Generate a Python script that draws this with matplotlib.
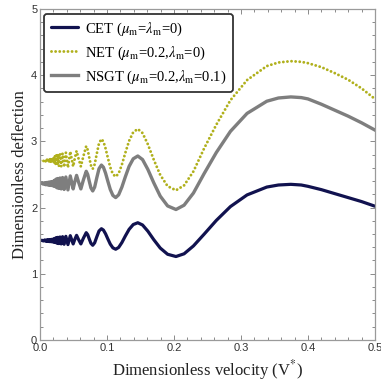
import matplotlib
matplotlib.use("Agg")
import matplotlib.pyplot as plt
from matplotlib.ticker import MultipleLocator

# ---------------- data ----------------
velocity = [0.0, 0.003, 0.005, 0.007, 0.0085, 0.010, 0.0113, 0.0126, 0.0139, 0.0152,
            0.0165, 0.0178, 0.019, 0.0202, 0.0213, 0.0223, 0.0233, 0.0243, 0.0255, 0.0268,
            0.0282, 0.0299, 0.0316, 0.0337, 0.0360, 0.0386, 0.0417, 0.0452, 0.0495, 0.0520,
            0.0546, 0.0576, 0.0610, 0.0647, 0.0690, 0.0712, 0.0735, 0.0760, 0.0787, 0.0816,
            0.0847, 0.0881, 0.0917, 0.0947, 0.0979, 0.1013, 0.1049, 0.1088, 0.113, 0.1174,
            0.1222, 0.1274, 0.1330, 0.1392, 0.146, 0.1531, 0.1610, 0.1698, 0.1795, 0.1905,
            0.203, 0.2151, 0.2291, 0.2449, 0.2632, 0.2843, 0.3091, 0.3386, 0.356, 0.3745,
            0.390, 0.400, 0.420, 0.440, 0.460, 0.480, 0.500]

cet = [1.50, 1.505, 1.495, 1.51, 1.49, 1.512, 1.488, 1.515, 1.485, 1.517,
       1.483, 1.52, 1.48, 1.525, 1.475, 1.535, 1.47, 1.545, 1.46, 1.55,
       1.455, 1.555, 1.45, 1.56, 1.445, 1.565, 1.44, 1.575, 1.45, 1.52,
       1.58, 1.515, 1.45, 1.535, 1.62, 1.59, 1.525, 1.46, 1.43, 1.467,
       1.555, 1.645, 1.68, 1.659, 1.6025, 1.525, 1.4475, 1.391, 1.37, 1.397,
       1.47, 1.57, 1.67, 1.743, 1.77, 1.736, 1.643, 1.515, 1.388, 1.294,
       1.26, 1.301, 1.420, 1.596, 1.805, 2.014, 2.190, 2.309, 2.34, 2.35,
       2.34, 2.32, 2.27, 2.21, 2.15, 2.09, 2.02]

net = [2.71, 2.719, 2.701, 2.728, 2.692, 2.732, 2.688, 2.737, 2.683, 2.741,
       2.679, 2.746, 2.674, 2.755, 2.665, 2.773, 2.656, 2.791, 2.638, 2.800,
       2.629, 2.809, 2.620, 2.818, 2.611, 2.827, 2.602, 2.845, 2.620, 2.746,
       2.854, 2.737, 2.620, 2.773, 2.926, 2.872, 2.755, 2.638, 2.584, 2.651,
       2.809, 2.971, 3.034, 2.996, 2.892, 2.750, 2.608, 2.504, 2.466, 2.514,
       2.646, 2.826, 3.006, 3.138, 3.186, 3.124, 2.955, 2.723, 2.492, 2.322,
       2.26, 2.334, 2.546, 2.89, 3.25, 3.62, 3.924, 4.136, 4.19, 4.21,
       4.20, 4.18, 4.12, 4.03, 3.93, 3.80, 3.64]

nsgt = [2.36, 2.367, 2.352, 2.375, 2.344, 2.378, 2.341, 2.383, 2.336, 2.386,
        2.333, 2.391, 2.328, 2.399, 2.320, 2.414, 2.313, 2.430, 2.297, 2.438,
        2.289, 2.446, 2.281, 2.453, 2.273, 2.461, 2.266, 2.477, 2.281, 2.391,
        2.485, 2.383, 2.281, 2.414, 2.547, 2.500, 2.399, 2.297, 2.250, 2.308,
        2.446, 2.586, 2.641, 2.608, 2.518, 2.396, 2.273, 2.183, 2.150, 2.192,
        2.307, 2.464, 2.621, 2.736, 2.778, 2.724, 2.576, 2.374, 2.172, 2.024,
        1.97, 2.035, 2.219, 2.51, 2.83, 3.15, 3.421, 3.605, 3.654, 3.67,
        3.66, 3.64, 3.56, 3.47, 3.38, 3.28, 3.17]

labels = [r'CET ($\mu_\mathrm{m}$=$\lambda_\mathrm{m}$=0)',
          r'NET ($\mu_\mathrm{m}$=0.2,$\lambda_\mathrm{m}$=0)',
          r'NSGT ($\mu_\mathrm{m}$=0.2,$\lambda_\mathrm{m}$=0.1)']

# ---------------- figure ----------------
plt.rcParams['mathtext.fontset'] = 'stix'
serif = ['Liberation Serif', 'DejaVu Serif']
sans = ['Liberation Sans', 'DejaVu Sans']

fig = plt.figure(figsize=(3.81, 3.85), dpi=100)
ax = fig.add_axes([0.105, 0.117, 0.879, 0.860])

ax.plot(velocity, cet, color='#11124f', lw=2.3, label=labels[0],
        solid_joinstyle='round', solid_capstyle='round')
ax.plot(velocity, net, color='#b0b01c', lw=2.1, linestyle=(0, (0.01, 1.4)),
        dash_capstyle='round', label=labels[1])
ax.plot(velocity, nsgt, color='#7e7e7e', lw=2.4, solid_joinstyle='round',
        label=labels[2])

ax.set_xlim(0, 0.5)
ax.set_ylim(0, 5)
ax.xaxis.set_major_locator(MultipleLocator(0.1))
ax.xaxis.set_minor_locator(MultipleLocator(0.02))
ax.yaxis.set_major_locator(MultipleLocator(1))
ax.yaxis.set_minor_locator(MultipleLocator(0.2))
ax.xaxis.set_major_formatter(plt.FuncFormatter(lambda v, p: f'{v:.1f}'))
ax.yaxis.set_major_formatter(plt.FuncFormatter(lambda v, p: f'{v:.0f}'))

ax.tick_params(which='both', direction='in', top=True, right=True, color='#8a8a8a', width=0.7)
ax.tick_params(which='major', length=3.5, labelsize=8, labelcolor='#333333', pad=2)
ax.tick_params(which='minor', length=2)
for lab in ax.get_xticklabels() + ax.get_yticklabels():
    lab.set_family(sans)
for sp in ax.spines.values():
    sp.set_color('#9a9a9a')
    sp.set_linewidth(0.9)

ax.set_xlabel(r'Dimensionless velocity (V$^{*}$)', family=serif, fontsize=12, color='#222222', labelpad=4)
ax.set_ylabel('Dimensionless deflection', family=serif, fontsize=12, color='#222222', labelpad=2)

leg = ax.legend(loc='upper left', bbox_to_anchor=(0.012, 0.985), borderaxespad=0,
                prop={'family': serif, 'size': 10.5}, fancybox=True, framealpha=1,
                edgecolor='#333333', handlelength=1.9, handletextpad=0.45,
                labelspacing=0.45, borderpad=0.45)
leg.get_frame().set_linewidth(1.3)

fig.savefig('out.png', dpi=100)
